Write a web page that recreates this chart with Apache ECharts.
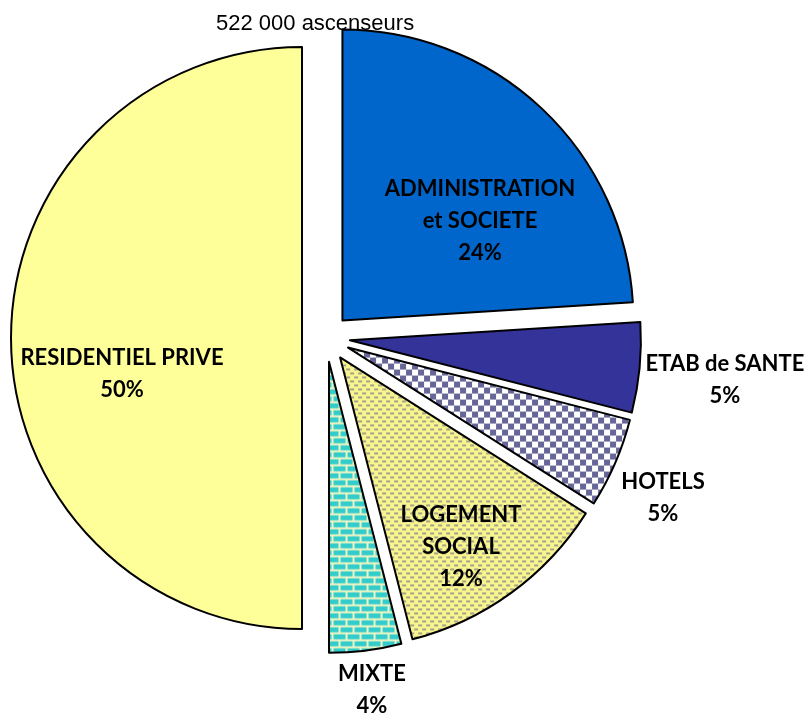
<!DOCTYPE html>
<html>
<head>
<meta charset="utf-8">
<script src="https://cdn.jsdelivr.net/npm/echarts@6/dist/echarts.min.js"></script>
<style>
  html, body { margin: 0; padding: 0; background: #fff; }
  #chart { width: 807px; height: 713px; }
</style>
</head>
<body>
<div id="chart"></div>
<script>
// Parc d'ascenseurs par type de bâtiment (parts en %)
const categories = [
  'ADMINISTRATION\net SOCIETE',
  'ETAB de SANTE',
  'HOTELS',
  'LOGEMENT\nSOCIAL',
  'MIXTE',
  'RESIDENTIEL PRIVE'
];
const shares = [24, 5, 5, 12, 4, 50];
const totalLabel = '522 000 ascenseurs';

// Small repeating fills drawn on canvases
function tile(w, h, draw) {
  const c = document.createElement('canvas');
  c.width = w; c.height = h;
  draw(c.getContext('2d'));
  return { image: c, repeat: 'repeat' };
}
const checker = tile(12, 12, g => {
  g.fillStyle = '#ffffff'; g.fillRect(0, 0, 12, 12);
  g.fillStyle = '#666699';
  g.fillRect(0, 0, 6, 6); g.fillRect(6, 6, 6, 6);
});
const dashes = tile(8, 8, g => {
  g.fillStyle = '#f8f48e'; g.fillRect(0, 0, 8, 8);
  g.fillStyle = '#a3a38a';
  g.fillRect(0, 1, 4, 2); g.fillRect(4, 5, 4, 2);
});
const bricks = tile(14, 14, g => {
  g.fillStyle = '#f2f7c4'; g.fillRect(0, 0, 14, 14);
  g.fillStyle = '#33cccc';
  g.fillRect(1.5, 1.5, 12, 5);
  g.fillRect(8.5, 8.5, 12, 5); g.fillRect(-5.5, 8.5, 12, 5);
});

const fills = ['#0066cc', '#333399', checker, dashes, bricks, '#ffff99'];

// Centre of each category's text block
const labelSpots = [
  [480, 221], [725, 380], [663, 498], [461, 547], [372, 690], [122, 374]
];

const chart = echarts.init(document.getElementById('chart'), null, { renderer: 'canvas' });
chart.setOption({
  animation: false,
  title: {
    text: totalLabel,
    left: 211, top: 8, z: 1,
    textStyle: { fontFamily: 'Liberation Sans', fontSize: 22, fontWeight: 'normal', color: '#000' }
  },
  graphic: categories.map((name, i) => ({
    type: 'text',
    x: labelSpots[i][0],
    y: labelSpots[i][1],
    z: 20,
    silent: true,
    style: {
      text: name + '\n' + shares[i] + '%',
      fontFamily: 'Lato',
      fontWeight: 'bold',
      fontSize: 22,
      lineHeight: 32,
      fill: '#000',
      align: 'center',
      verticalAlign: 'middle'
    }
  })),
  series: [{
    type: 'pie',
    z: 3,
    center: [326, 338],
    radius: [0, 291],
    startAngle: 90,
    clockwise: true,
    selectedMode: 'multiple',
    selectedOffset: 24,
    emphasis: { disabled: true },
    itemStyle: { borderColor: '#000', borderWidth: 2 },
    label: { show: false },
    labelLine: { show: false },
    data: categories.map((name, i) => ({
      name, value: shares[i], selected: true,
      itemStyle: { color: fills[i] }
    }))
  }]
});
</script>
</body>
</html>
